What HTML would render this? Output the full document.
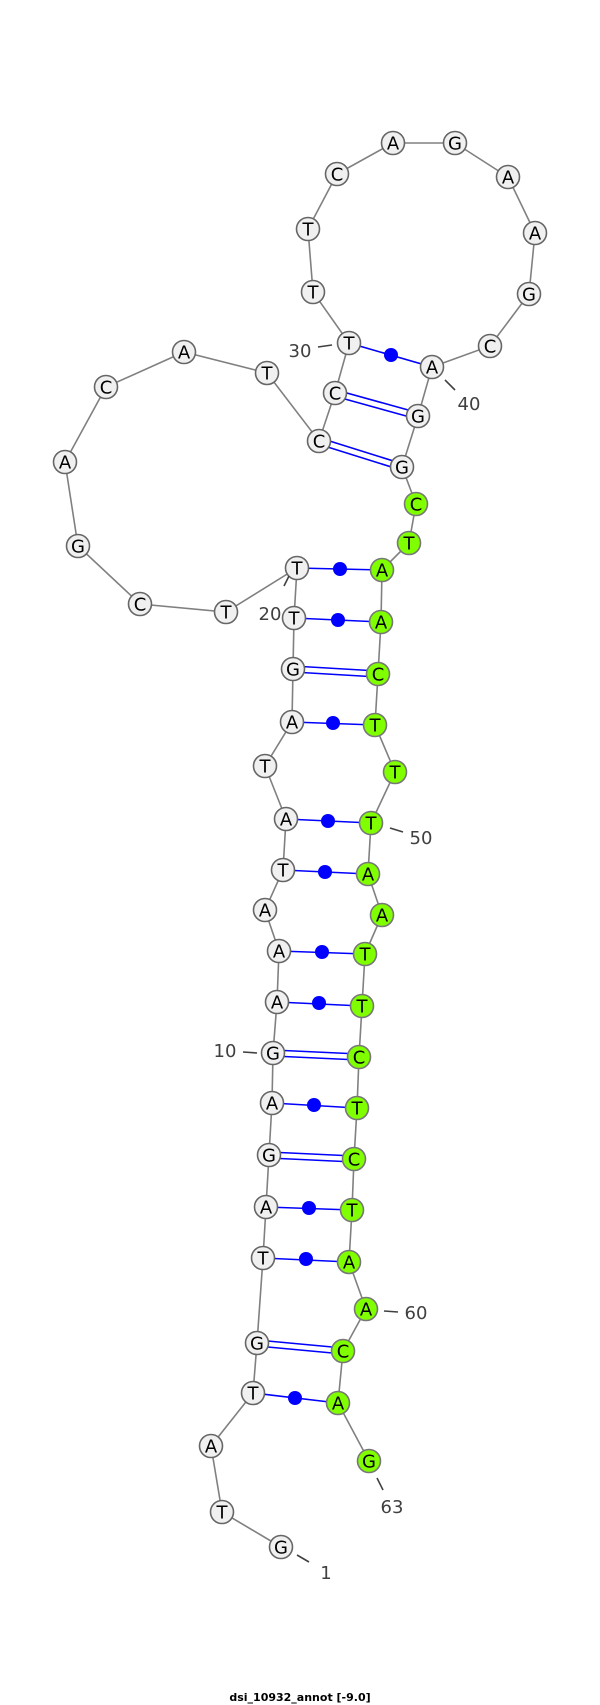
<!DOCTYPE html>
<html><head><meta charset="utf-8"><style>
html,body{margin:0;padding:0;background:#fff;}
svg{display:block;}
.b{stroke:#808080;stroke-width:1.6;fill:none}
.p{stroke:#0000ff;stroke-width:1.6;fill:none}
.d{fill:#0000ff}
.n{fill:#f0f0f0;stroke:#666;stroke-width:1.6}
.g{fill:#80ff00;stroke:#777;stroke-width:1.6}
.t{font-family:"DejaVu Sans","Liberation Sans",sans-serif;font-size:18px;fill:#000;text-anchor:middle}
.l{font-family:"DejaVu Sans","Liberation Sans",sans-serif;font-size:18px;fill:#404040;text-anchor:middle}
.k{stroke:#404040;stroke-width:1.6}
</style></head><body>
<svg width="600" height="1705" viewBox="0 0 600 1705" xmlns="http://www.w3.org/2000/svg">
<polyline class="b" points="281,1547 222,1512 211,1446 253,1393 257,1343 263,1258 266,1207 269,1155 272,1103 273,1053 277,1002 279,951 265,910 283,870 286,819 265,766 292,722 293,669 294,618 297,568 226,612 140,604 78,546 65,462 106,387 184,352 267,373 319,441 335,393 349,343 313,292 308,229 337,174 393,143 455,143 508,177 535,233 529,294 490,346 432,367 418,416 402,467 416,504 409,543 382,570 381,622 378,674 375,725 395,772 371,823 368,874 382,915 365,954 362,1006 359,1057 357,1108 354,1159 352,1210 349,1262 366,1309 343,1351 338,1403 369,1461"/>
<line class="p" x1="253" y1="1393" x2="338" y2="1403"/><circle class="d" cx="295" cy="1398" r="7"/>
<line class="p" x1="263" y1="1258" x2="349" y2="1262"/><circle class="d" cx="306" cy="1259" r="7"/>
<line class="p" x1="266" y1="1207" x2="352" y2="1210"/><circle class="d" cx="309" cy="1208" r="7"/>
<line class="p" x1="272" y1="1103" x2="357" y2="1108"/><circle class="d" cx="314" cy="1105" r="7"/>
<line class="p" x1="277" y1="1002" x2="362" y2="1006"/><circle class="d" cx="319" cy="1003" r="7"/>
<line class="p" x1="279" y1="951" x2="365" y2="954"/><circle class="d" cx="322" cy="952" r="7"/>
<line class="p" x1="283" y1="870" x2="368" y2="874"/><circle class="d" cx="325" cy="872" r="7"/>
<line class="p" x1="286" y1="819" x2="371" y2="823"/><circle class="d" cx="328" cy="821" r="7"/>
<line class="p" x1="292" y1="722" x2="375" y2="725"/><circle class="d" cx="333" cy="723" r="7"/>
<line class="p" x1="294" y1="618" x2="381" y2="622"/><circle class="d" cx="338" cy="620" r="7"/>
<line class="p" x1="297" y1="568" x2="382" y2="570"/><circle class="d" cx="340" cy="569" r="7"/>
<line class="p" x1="349" y1="343" x2="432" y2="367"/><circle class="d" cx="391" cy="355" r="7"/>
<line class="p" x1="257" y1="1340" x2="343" y2="1348"/><line class="p" x1="257" y1="1346" x2="343" y2="1354"/>
<line class="p" x1="269" y1="1152" x2="354" y2="1156"/><line class="p" x1="269" y1="1158" x2="354" y2="1162"/>
<line class="p" x1="273" y1="1050" x2="359" y2="1054"/><line class="p" x1="273" y1="1056" x2="359" y2="1060"/>
<line class="p" x1="293" y1="666" x2="378" y2="671"/><line class="p" x1="293" y1="672" x2="378" y2="677"/>
<line class="p" x1="336" y1="390" x2="419" y2="413"/><line class="p" x1="334" y1="396" x2="417" y2="419"/>
<line class="p" x1="320" y1="438" x2="403" y2="464"/><line class="p" x1="318" y1="444" x2="401" y2="470"/>
<g>
<circle class="n" cx="281" cy="1547" r="11.5"/><text class="t" x="281" y="1553.5">G</text>
<circle class="n" cx="222" cy="1512" r="11.5"/><text class="t" x="222" y="1518.5">T</text>
<circle class="n" cx="211" cy="1446" r="11.5"/><text class="t" x="211" y="1452.5">A</text>
<circle class="n" cx="253" cy="1393" r="11.5"/><text class="t" x="253" y="1399.5">T</text>
<circle class="n" cx="257" cy="1343" r="11.5"/><text class="t" x="257" y="1349.5">G</text>
<circle class="n" cx="263" cy="1258" r="11.5"/><text class="t" x="263" y="1264.5">T</text>
<circle class="n" cx="266" cy="1207" r="11.5"/><text class="t" x="266" y="1213.5">A</text>
<circle class="n" cx="269" cy="1155" r="11.5"/><text class="t" x="269" y="1161.5">G</text>
<circle class="n" cx="272" cy="1103" r="11.5"/><text class="t" x="272" y="1109.5">A</text>
<circle class="n" cx="273" cy="1053" r="11.5"/><text class="t" x="273" y="1059.5">G</text>
<circle class="n" cx="277" cy="1002" r="11.5"/><text class="t" x="277" y="1008.5">A</text>
<circle class="n" cx="279" cy="951" r="11.5"/><text class="t" x="279" y="957.5">A</text>
<circle class="n" cx="265" cy="910" r="11.5"/><text class="t" x="265" y="916.5">A</text>
<circle class="n" cx="283" cy="870" r="11.5"/><text class="t" x="283" y="876.5">T</text>
<circle class="n" cx="286" cy="819" r="11.5"/><text class="t" x="286" y="825.5">A</text>
<circle class="n" cx="265" cy="766" r="11.5"/><text class="t" x="265" y="772.5">T</text>
<circle class="n" cx="292" cy="722" r="11.5"/><text class="t" x="292" y="728.5">A</text>
<circle class="n" cx="293" cy="669" r="11.5"/><text class="t" x="293" y="675.5">G</text>
<circle class="n" cx="294" cy="618" r="11.5"/><text class="t" x="294" y="624.5">T</text>
<circle class="n" cx="297" cy="568" r="11.5"/><text class="t" x="297" y="574.5">T</text>
<circle class="n" cx="226" cy="612" r="11.5"/><text class="t" x="226" y="618.5">T</text>
<circle class="n" cx="140" cy="604" r="11.5"/><text class="t" x="140" y="610.5">C</text>
<circle class="n" cx="78" cy="546" r="11.5"/><text class="t" x="78" y="552.5">G</text>
<circle class="n" cx="65" cy="462" r="11.5"/><text class="t" x="65" y="468.5">A</text>
<circle class="n" cx="106" cy="387" r="11.5"/><text class="t" x="106" y="393.5">C</text>
<circle class="n" cx="184" cy="352" r="11.5"/><text class="t" x="184" y="358.5">A</text>
<circle class="n" cx="267" cy="373" r="11.5"/><text class="t" x="267" y="379.5">T</text>
<circle class="n" cx="319" cy="441" r="11.5"/><text class="t" x="319" y="447.5">C</text>
<circle class="n" cx="335" cy="393" r="11.5"/><text class="t" x="335" y="399.5">C</text>
<circle class="n" cx="349" cy="343" r="11.5"/><text class="t" x="349" y="349.5">T</text>
<circle class="n" cx="313" cy="292" r="11.5"/><text class="t" x="313" y="298.5">T</text>
<circle class="n" cx="308" cy="229" r="11.5"/><text class="t" x="308" y="235.5">T</text>
<circle class="n" cx="337" cy="174" r="11.5"/><text class="t" x="337" y="180.5">C</text>
<circle class="n" cx="393" cy="143" r="11.5"/><text class="t" x="393" y="149.5">A</text>
<circle class="n" cx="455" cy="143" r="11.5"/><text class="t" x="455" y="149.5">G</text>
<circle class="n" cx="508" cy="177" r="11.5"/><text class="t" x="508" y="183.5">A</text>
<circle class="n" cx="535" cy="233" r="11.5"/><text class="t" x="535" y="239.5">A</text>
<circle class="n" cx="529" cy="294" r="11.5"/><text class="t" x="529" y="300.5">G</text>
<circle class="n" cx="490" cy="346" r="11.5"/><text class="t" x="490" y="352.5">C</text>
<circle class="n" cx="432" cy="367" r="11.5"/><text class="t" x="432" y="373.5">A</text>
<circle class="n" cx="418" cy="416" r="11.5"/><text class="t" x="418" y="422.5">G</text>
<circle class="n" cx="402" cy="467" r="11.5"/><text class="t" x="402" y="473.5">G</text>
<circle class="g" cx="416" cy="504" r="11.5"/><text class="t" x="416" y="510.5">C</text>
<circle class="g" cx="409" cy="543" r="11.5"/><text class="t" x="409" y="549.5">T</text>
<circle class="g" cx="382" cy="570" r="11.5"/><text class="t" x="382" y="576.5">A</text>
<circle class="g" cx="381" cy="622" r="11.5"/><text class="t" x="381" y="628.5">A</text>
<circle class="g" cx="378" cy="674" r="11.5"/><text class="t" x="378" y="680.5">C</text>
<circle class="g" cx="375" cy="725" r="11.5"/><text class="t" x="375" y="731.5">T</text>
<circle class="g" cx="395" cy="772" r="11.5"/><text class="t" x="395" y="778.5">T</text>
<circle class="g" cx="371" cy="823" r="11.5"/><text class="t" x="371" y="829.5">T</text>
<circle class="g" cx="368" cy="874" r="11.5"/><text class="t" x="368" y="880.5">A</text>
<circle class="g" cx="382" cy="915" r="11.5"/><text class="t" x="382" y="921.5">A</text>
<circle class="g" cx="365" cy="954" r="11.5"/><text class="t" x="365" y="960.5">T</text>
<circle class="g" cx="362" cy="1006" r="11.5"/><text class="t" x="362" y="1012.5">T</text>
<circle class="g" cx="359" cy="1057" r="11.5"/><text class="t" x="359" y="1063.5">C</text>
<circle class="g" cx="357" cy="1108" r="11.5"/><text class="t" x="357" y="1114.5">T</text>
<circle class="g" cx="354" cy="1159" r="11.5"/><text class="t" x="354" y="1165.5">C</text>
<circle class="g" cx="352" cy="1210" r="11.5"/><text class="t" x="352" y="1216.5">T</text>
<circle class="g" cx="349" cy="1262" r="11.5"/><text class="t" x="349" y="1268.5">A</text>
<circle class="g" cx="366" cy="1309" r="11.5"/><text class="t" x="366" y="1315.5">A</text>
<circle class="g" cx="343" cy="1351" r="11.5"/><text class="t" x="343" y="1357.5">C</text>
<circle class="g" cx="338" cy="1403" r="11.5"/><text class="t" x="338" y="1409.5">A</text>
<circle class="g" cx="369" cy="1461" r="11.5"/><text class="t" x="369" y="1467.5">G</text>
</g>
<line class="k" x1="297" y1="1555" x2="309" y2="1562"/><text class="l" x="326" y="1579">1</text>
<line class="k" x1="243" y1="1052" x2="257" y2="1053"/><text class="l" x="225" y="1057">10</text>
<line class="k" x1="289" y1="576" x2="284" y2="586"/><text class="l" x="270" y="620">20</text>
<line class="k" x1="318" y1="347" x2="332" y2="345"/><text class="l" x="300" y="357">30</text>
<line class="k" x1="445" y1="380" x2="455" y2="390"/><text class="l" x="469" y="410">40</text>
<line class="k" x1="390" y1="828" x2="403" y2="832"/><text class="l" x="421" y="844">50</text>
<line class="k" x1="384" y1="1311" x2="398" y2="1312"/><text class="l" x="416" y="1319">60</text>
<line class="k" x1="377" y1="1478" x2="383" y2="1490"/><text class="l" x="392" y="1513">63</text>
<text x="300" y="1701" style="font-family:'DejaVu Sans','Liberation Sans',sans-serif;font-size:11px;font-weight:bold;fill:#000;text-anchor:middle">dsi_10932_annot [-9.0]</text>
</svg>
</body></html>
